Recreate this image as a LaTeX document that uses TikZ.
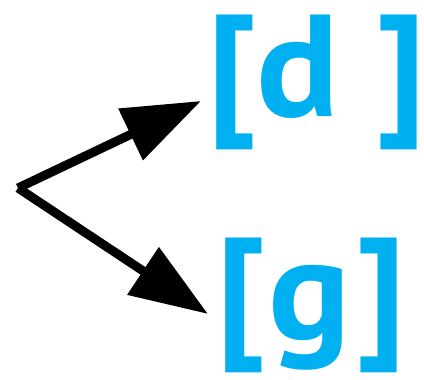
\documentclass[tikz,border=0pt]{standalone}
\usepackage{fontspec}
\setmainfont{PT Sans}[FakeStretch=1.06]
\usetikzlibrary{arrows.meta}
\definecolor{phon}{HTML}{00B0F0}
\begin{document}
\begin{tikzpicture}[x=1pt,y=1pt,
  lbl/.style={anchor=base west,inner sep=0pt,text=phon,font=\fontsize{145}{145}\selectfont\bfseries},
  arr/.style={line width=9pt,-{Triangle[length=78pt,width=55pt]}}]
\useasboundingbox (0,0) rectangle (424,380);
\node[lbl] (d) at (207,263) {[d \kern-2pt]};
\node[lbl] (g) at (216,40) {[\kern3pt g\kern5pt]};
\coordinate (o) at (18,192);
\coordinate (td) at (201,279);
\coordinate (tg) at (208,66);
\draw[arr] (o) -- (td);
\draw[arr] (o) -- (tg);
\end{tikzpicture}
\end{document}
